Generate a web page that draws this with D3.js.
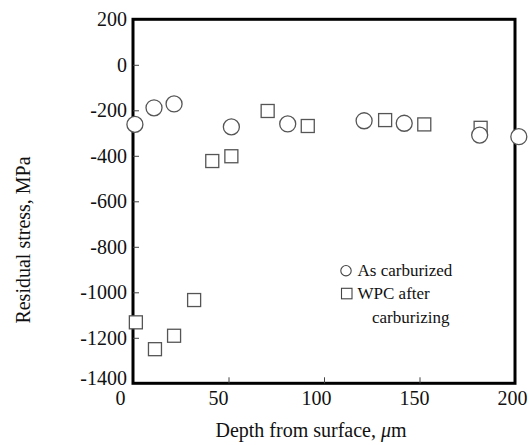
<!DOCTYPE html>
<html>
<head>
<meta charset="utf-8">
<script src="https://cdn.jsdelivr.net/npm/d3@7"></script>
<style>
	body { margin: 0; background: #fff; }
	svg { display: block; font-family: "Liberation Serif", "Times New Roman", serif; }
</style>
</head>
<body>
<svg width="530" height="445"></svg>
<script>
// depth (um) and residual stress (MPa)
var carburizedDepth = [1, 11, 21.5, 51.5, 81, 121, 142, 181.5, 202];
var carburizedStress = [-262, -189, -172, -273, -260, -246, -257, -309, -316];

var wpcDepth = [1.5, 11.5, 21.5, 32, 41.5, 51.5, 70.5, 91.5, 132, 152.5, 182];
var wpcStress = [-1132, -1250, -1191, -1034, -423, -402, -203, -269, -243, -262, -277];

var xTicks = [0, 50, 100, 150, 200];
var yTicks = [200, 0, -200, -400, -600, -800, -1000, -1200, -1400];

var seriesNames = ["As carburized", "WPC after", "carburizing"];

(function() {
	var svg = d3.select("svg");
	var plotLeft = 133, plotRight = 515, plotTop = 19.3, plotBottom = 383.3;

	var x = d3.scaleLinear().domain([0, 200]).range([plotLeft, plotRight]);
	var y = d3.scaleLinear().domain([-1400, 200]).range([plotBottom, plotTop]);
	// the scanned labels sit a little left of their ticks
	var xLabel = d3.scaleLinear().domain([0, 200]).range([120, 512]);

	// frame
	svg.append("rect")
		.attr("x", plotLeft).attr("y", plotTop)
		.attr("width", plotRight - plotLeft).attr("height", plotBottom - plotTop)
		.attr("fill", "none").attr("stroke", "#000").attr("stroke-width", 3);

	// y axis (ticks pointing inward)
	var yAxis = svg.append("g")
		.attr("transform", "translate(" + plotLeft + ",0)")
		.call(d3.axisRight(y).tickValues(yTicks).tickSize(6).tickFormat(function(d) { return String(d); }));
	yAxis.select(".domain").remove();
	yAxis.selectAll(".tick line")
		.attr("stroke", "#444").attr("stroke-width", 1)
		.attr("display", function(d) { return d == 200 || d == -1400 ? "none" : null; });
	yAxis.selectAll(".tick text")
		.attr("x", -6).attr("text-anchor", "end")
		.attr("dy", function(d) { return d == -1400 ? "0em" : "0.32em"; })
		.attr("y", function(d) { return d == -1400 ? 1 : 0; })
		.attr("font-family", "Liberation Serif").attr("font-size", 20).attr("fill", "#111");

	// x axis
	var xAxis = svg.append("g")
		.attr("transform", "translate(0," + plotBottom + ")")
		.call(d3.axisTop(x).tickValues(xTicks).tickSize(6));
	xAxis.select(".domain").remove();
	xAxis.selectAll(".tick line")
		.attr("stroke", "#444").attr("stroke-width", 1)
		.attr("display", function(d) { return d == 0 || d == 200 ? "none" : null; });
	xAxis.selectAll(".tick text")
		.attr("y", 21.5).attr("dy", 0)
		.attr("dx", function(d) { return xLabel(d) - x(d); })
		.attr("font-family", "Liberation Serif").attr("font-size", 20).attr("fill", "#111");

	// axis titles
	svg.append("text")
		.attr("transform", "translate(30,240) rotate(-90)")
		.attr("text-anchor", "middle").attr("font-size", 20).attr("fill", "#111")
		.text("Residual stress, MPa");

	var xt = svg.append("text")
		.attr("x", 311).attr("y", 437)
		.attr("text-anchor", "middle").attr("font-size", 20).attr("fill", "#111");
	xt.append("tspan").text("Depth from surface, ");
	xt.append("tspan").attr("font-style", "italic").text("\u03bc");
	xt.append("tspan").text("m");

	// data points
	var wpc = wpcDepth.map(function(d, i) { return [d, wpcStress[i]]; });
	var carb = carburizedDepth.map(function(d, i) { return [d, carburizedStress[i]]; });
	var side = 13;

	svg.append("g").attr("class", "squares").selectAll("rect").data(wpc).enter().append("rect")
		.attr("x", function(d) { return x(d[0]) - side / 2; })
		.attr("y", function(d) { return y(d[1]) - side / 2; })
		.attr("width", side).attr("height", side)
		.attr("fill", "#fff").attr("stroke", "#555").attr("stroke-width", 1.3);

	svg.append("g").attr("class", "circles").selectAll("circle").data(carb).enter().append("circle")
		.attr("cx", function(d) { return x(d[0]); })
		.attr("cy", function(d) { return y(d[1]); })
		.attr("r", 8)
		.attr("fill", "#fff").attr("stroke", "#555").attr("stroke-width", 1.3);

	// legend
	var lg = svg.append("g").attr("class", "legend").attr("font-size", 17).attr("fill", "#111");
	lg.append("circle").attr("cx", 346).attr("cy", 270.7).attr("r", 5.2)
		.attr("fill", "none").attr("stroke", "#444").attr("stroke-width", 1.1);
	lg.append("text").attr("x", 357.5).attr("y", 276).text(seriesNames[0]);
	lg.append("rect").attr("x", 341.5).attr("y", 288.3).attr("width", 10.5).attr("height", 10.5)
		.attr("fill", "none").attr("stroke", "#444").attr("stroke-width", 1.1);
	lg.append("text").attr("x", 357.5).attr("y", 298.5).text(seriesNames[1]);
	lg.append("text").attr("x", 372).attr("y", 323).text(seriesNames[2]);
})();
</script>
</body>
</html>
